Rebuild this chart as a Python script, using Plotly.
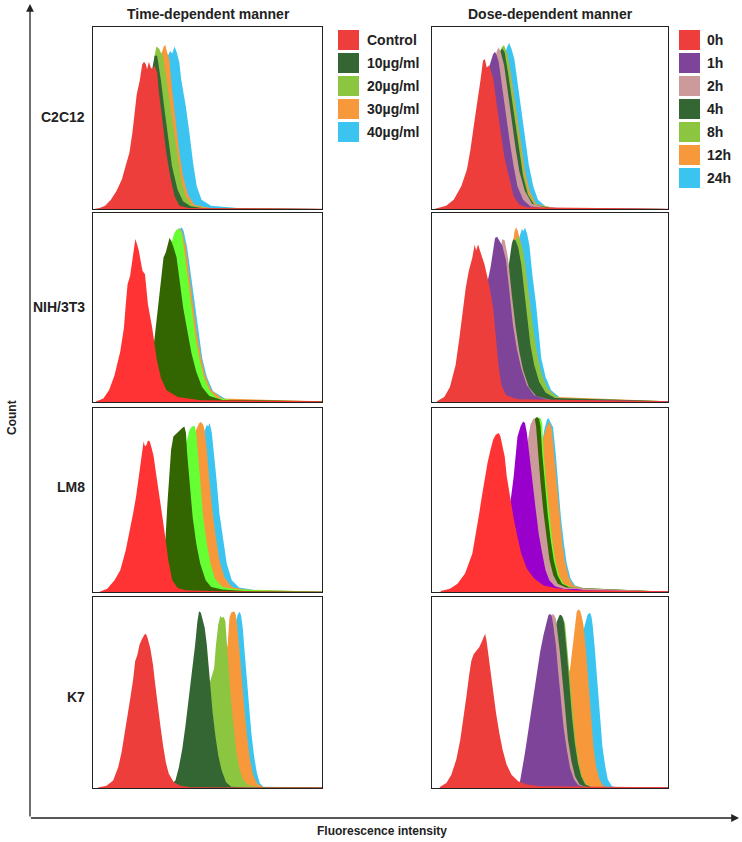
import plotly.graph_objects as go

W, H = 742, 842
FONT = "Liberation Sans, Arial, Helvetica, sans-serif"
INK = "#222222"

# ---------------- labels ----------------
column_titles = ["Time-dependent manner", "Dose-dependent manner"]
time_labels = ["Control", "10µg/ml", "20µg/ml", "30µg/ml", "40µg/ml"]
dose_labels = ["0h", "1h", "2h", "4h", "8h", "12h", "24h"]
cell_lines = ["C2C12", "NIH/3T3", "LM8", "K7"]
x_title = "Fluorescence intensity"
y_title = "Count"

time_legend_colors = ["#EE3E3B", "#336633", "#8CC540", "#F7993B", "#3CC4F0"]
dose_legend_colors = ["#EE3E3B", "#7E449A", "#CC9A9A", "#336633", "#8CC540", "#F7993B", "#3CC4F0"]

# ---------------- histogram data (channel %, count % of panel max) ----------------
# C2C12 - time
c2c12_time_control_x = [0.5, 2.9, 5.3, 7.8, 10.2, 12.6, 14.2, 15.9, 17.2, 18.3, 19.1, 20.4, 21.5, 22.3, 23.1, 23.6, 24.4, 25.2, 26.1, 26.9, 28.0, 28.8, 30.4, 32.0, 33.7, 35.6, 37.7, 41.7, 100]
c2c12_time_control_y = [0, 0.6, 1.8, 5.1, 9.7, 16.2, 23.5, 30.9, 41.9, 52.9, 63.1, 70.4, 79.6, 80.9, 79.6, 76.8, 80.9, 77.8, 76.8, 79.0, 75.0, 64.0, 47.4, 30.9, 18.0, 7.0, 1.8, 0.6, 0.2]
c2c12_time_10_x = [17.5, 22.3, 25.6, 26.9, 28.0, 29.6, 31.2, 32.8, 34.5, 36.9, 39.3, 42.6, 48.2, 100]
c2c12_time_10_y = [0, 47.4, 75.0, 84.2, 84.2, 71.3, 54.8, 38.2, 23.5, 10.7, 4.2, 1.5, 0.4, 0]
c2c12_time_20_x = [19.1, 23.9, 26.9, 27.7, 28.8, 29.6, 30.4, 32.0, 33.7, 35.3, 36.9, 38.5, 40.5, 43.4, 49.8, 100]
c2c12_time_20_y = [0, 47.4, 84.2, 89.3, 88.2, 86.0, 85.1, 71.3, 56.6, 41.9, 27.2, 16.2, 7.0, 1.8, 0.4, 0]
c2c12_time_30_x = [20.7, 25.6, 29.6, 30.9, 31.6, 32.4, 33.3, 34.5, 36.1, 37.7, 39.3, 41.4, 44.2, 51.5, 100]
c2c12_time_30_y = [0, 47.4, 84.2, 89.3, 90.1, 86.0, 82.4, 65.8, 47.4, 30.9, 18.0, 7.9, 2.4, 0.4, 0]
c2c12_time_40_x = [22.3, 27.2, 32.0, 33.7, 34.6, 35.6, 36.6, 37.7, 38.5, 40.5, 42.1, 43.7, 45.3, 47.4, 51.5, 59.5, 64.4, 100]
c2c12_time_40_y = [0, 47.4, 82.4, 86.8, 85.5, 89.3, 86.0, 80.5, 71.3, 56.6, 41.9, 25.4, 12.5, 5.1, 1.8, 1.1, 0.4, 0]

# C2C12 - dose
c2c12_dose_0h_x = [1.3, 6.0, 9.2, 12.4, 14.8, 16.3, 17.9, 19.5, 20.6, 21.6, 22.4, 23.2, 24.3, 25.1, 25.9, 27.5, 29.0, 30.6, 32.2, 34.6, 37.0, 40.2, 100]
c2c12_dose_0h_y = [0.2, 1.8, 5.1, 12.5, 21.7, 32.7, 47.4, 60.3, 71.3, 81.4, 82.4, 77.8, 79.0, 75.0, 72.2, 56.6, 41.9, 29.0, 19.9, 7.0, 2.4, 0.9, 0.2]
c2c12_dose_1h_x = [12.4, 18.7, 23.5, 25.9, 26.7, 27.5, 28.3, 29.8, 31.4, 33.0, 34.6, 36.2, 38.6, 41.7, 47.3, 100]
c2c12_dose_1h_y = [0, 47.4, 75.0, 85.1, 86.4, 84.2, 80.5, 65.8, 51.1, 36.4, 23.5, 12.5, 5.1, 1.5, 0.4, 0]
c2c12_dose_2h_x = [14.0, 20.3, 25.9, 27.5, 28.3, 29.2, 30.6, 32.2, 33.8, 35.4, 37.0, 39.4, 42.5, 48.9, 100]
c2c12_dose_2h_y = [0, 47.4, 78.7, 86.9, 88.8, 86.0, 78.7, 63.1, 48.3, 33.6, 20.8, 9.7, 2.8, 0.4, 0]
c2c12_dose_4h_x = [15.6, 21.9, 27.5, 29.0, 29.8, 30.8, 32.2, 33.8, 35.4, 37.0, 38.6, 40.6, 43.3, 50.5, 100]
c2c12_dose_4h_y = [0, 47.4, 80.5, 86.9, 88.2, 86.0, 75.0, 60.3, 45.6, 30.9, 18.0, 7.9, 2.4, 0.4, 0]
c2c12_dose_8h_x = [16.4, 22.7, 28.3, 29.5, 30.5, 31.4, 32.7, 34.3, 35.9, 37.5, 39.0, 40.9, 43.8, 51.3, 100]
c2c12_dose_8h_y = [0, 47.4, 84.2, 88.8, 90.1, 87.0, 78.7, 63.1, 48.3, 33.6, 19.9, 8.8, 2.4, 0.4, 0]
c2c12_dose_12h_x = [17.1, 23.5, 29.8, 31.1, 31.9, 33.0, 34.6, 36.2, 37.8, 39.4, 41.4, 44.1, 52.1, 100]
c2c12_dose_12h_y = [0, 47.4, 82.4, 86.9, 85.1, 77.8, 64.0, 49.3, 34.6, 20.8, 9.7, 2.8, 0.4, 0]
c2c12_dose_24h_x = [18.7, 25.1, 30.6, 31.7, 32.7, 33.7, 34.9, 36.2, 37.8, 39.4, 41.0, 42.9, 44.9, 48.1, 53.7, 100]
c2c12_dose_24h_y = [0, 47.4, 82.4, 88.8, 91.2, 87.9, 82.4, 69.5, 53.9, 39.2, 24.4, 12.5, 5.1, 1.5, 0.4, 0]

# NIH/3T3 - time
nih3t3_time_control_x = [1.3, 4.5, 7.0, 9.4, 11.9, 13.5, 14.3, 15.1, 16.2, 17.2, 17.9, 18.5, 19.2, 20.0, 20.8, 21.6, 22.7, 24.0, 25.8, 27.9, 29.7, 32.1, 37.0, 46.8, 100]
nih3t3_time_control_y = [0.2, 1.8, 6.2, 14.2, 26.7, 39.1, 51.6, 62.3, 66.7, 74.7, 81.9, 86.3, 83.6, 80.1, 74.7, 69.4, 67.6, 51.6, 39.7, 22.1, 12.5, 6.2, 2.7, 0.9, 0.4]
nih3t3_time_10_x = [22.4, 24.8, 26.9, 28.6, 29.9, 30.8, 31.8, 32.6, 33.4, 34.1, 35.1, 36.5, 37.8, 39.4, 40.9, 43.0, 45.1, 47.6, 50.8, 56.5, 100]
nih3t3_time_10_y = [0.4, 14.2, 33.8, 51.6, 64.1, 76.5, 79.2, 83.6, 86.8, 85.4, 82.2, 76.5, 64.8, 49.8, 39.7, 25.8, 16.0, 8.0, 3.2, 1.1, 0.4]
nih3t3_time_20_x = [24.0, 27.3, 31.3, 34.1, 35.4, 36.4, 37.3, 38.3, 39.0, 39.9, 41.6, 43.2, 44.8, 46.4, 48.4, 50.8, 54.1, 63.0, 100]
nih3t3_time_20_y = [0.4, 23.1, 58.7, 83.6, 89.0, 91.1, 91.6, 90.4, 88.1, 80.1, 64.1, 48.0, 33.8, 23.1, 13.3, 6.2, 2.1, 0.7, 0.4]
nih3t3_time_30_x = [24.8, 28.1, 32.1, 35.4, 37.0, 38.0, 38.96, 40.6, 42.2, 43.8, 45.5, 47.1, 49.0, 51.6, 56.5, 100]
nih3t3_time_30_y = [0.4, 23.1, 58.7, 85.4, 91.1, 91.8, 89.9, 81.9, 65.8, 49.8, 35.6, 24.0, 14.2, 6.2, 1.8, 0.4]
nih3t3_time_40_x = [25.6, 28.9, 33.0, 36.2, 37.5, 38.1, 38.8, 39.6, 41.1, 42.9, 44.5, 46.1, 47.7, 49.7, 52.4, 58.1, 66.2, 100]
nih3t3_time_40_y = [0.4, 23.1, 58.7, 87.2, 92.2, 91.5, 92.5, 90.4, 81.9, 65.8, 49.8, 35.6, 23.1, 13.3, 5.7, 1.4, 0.4, 0.4]

# NIH/3T3 - dose
nih3t3_dose_0h_x = [2.1, 5.2, 7.6, 10.0, 11.6, 13.2, 14.3, 15.6, 17.1, 18.1, 18.7, 19.5, 20.3, 21.1, 22.2, 23.2, 24.3, 25.9, 26.7, 27.5, 28.3, 29.5, 31.4, 36.2, 100]
nih3t3_dose_0h_y = [0.4, 2.7, 8.0, 19.6, 33.8, 49.8, 60.5, 69.4, 76.5, 83.3, 80.1, 83.3, 80.4, 77.4, 73.0, 67.6, 61.4, 49.8, 39.1, 28.5, 17.8, 8.9, 3.6, 1.4, 0.4]
nih3t3_dose_1h_x = [12.4, 18.7, 22.7, 24.8, 25.9, 26.7, 27.6, 28.6, 29.8, 31.4, 32.7, 34.3, 35.9, 37.8, 40.2, 43.3, 48.9, 100]
nih3t3_dose_1h_y = [0.4, 40.9, 58.7, 71.2, 80.1, 86.8, 87.5, 85.4, 82.7, 74.7, 58.7, 40.9, 28.5, 17.8, 8.9, 3.6, 1.2, 0.4]
nih3t3_dose_2h_x = [14.0, 21.9, 26.7, 29.1, 29.8, 30.8, 32.2, 33.8, 35.4, 37.0, 38.6, 41.0, 44.1, 50.5, 100]
nih3t3_dose_2h_y = [0.4, 40.9, 67.6, 83.6, 86.3, 85.4, 76.5, 56.9, 40.0, 26.7, 16.9, 8.0, 3.2, 0.9, 0.4]
nih3t3_dose_4h_x = [17.1, 25.1, 30.6, 32.7, 33.8, 34.4, 35.4, 36.5, 37.8, 39.0, 40.3, 41.7, 43.3, 45.4, 48.1, 52.1, 100]
nih3t3_dose_4h_y = [0.4, 40.9, 64.1, 73.8, 83.6, 86.1, 85.4, 81.9, 73.0, 58.7, 44.5, 30.2, 19.6, 10.7, 5.0, 2.1, 0.4]
nih3t3_dose_8h_x = [17.9, 26.7, 32.2, 34.6, 35.9, 37.0, 38.6, 39.7, 41.0, 43.3, 44.9, 47.0, 49.7, 53.7, 100]
nih3t3_dose_8h_y = [0.4, 40.9, 67.6, 83.6, 87.5, 86.3, 80.1, 69.4, 55.2, 35.6, 22.2, 12.5, 5.7, 2.1, 0.4]
nih3t3_dose_12h_x = [18.7, 27.5, 33.0, 34.9, 35.6, 36.3, 37.8, 39.4, 41.0, 42.5, 44.1, 46.0, 48.9, 52.9, 100]
nih3t3_dose_12h_y = [0.4, 40.9, 71.2, 89.9, 92.5, 90.7, 83.6, 73.0, 56.9, 40.9, 28.5, 16.0, 7.1, 2.7, 0.4]
nih3t3_dose_24h_x = [19.5, 28.3, 34.6, 37.0, 38.1, 38.7, 39.4, 40.3, 41.3, 42.5, 44.1, 45.1, 46.3, 48.1, 50.5, 54.4, 61.6, 100]
nih3t3_dose_24h_y = [0.4, 40.9, 73.0, 87.2, 91.6, 90.4, 92.2, 89.0, 82.7, 67.6, 51.6, 37.4, 23.1, 13.3, 6.2, 2.1, 0.7, 0.4]

# LM8 - time
lm8_time_control_x = [2.9, 6.2, 9.4, 11.9, 14.3, 15.9, 17.5, 18.8, 20.0, 20.8, 21.6, 22.1, 22.7, 23.4, 24.0, 24.8, 25.6, 26.5, 27.3, 28.9, 30.5, 31.7, 32.9, 34.6, 37.0, 40.3, 54.9, 100]
lm8_time_control_y = [0.2, 1.8, 6.4, 11.8, 22.7, 31.8, 42.7, 51.8, 62.7, 70.0, 77.3, 81.8, 79.1, 80.0, 82.4, 81.8, 78.2, 73.6, 66.4, 53.6, 39.1, 28.2, 17.3, 6.4, 2.2, 0.9, 0.4, 0.2]
lm8_time_10_x = [28.9, 31.7, 32.5, 33.4, 34.1, 35.1, 36.7, 37.8, 38.96, 39.9, 40.6, 41.1, 42.2, 43.5, 45.1, 46.8, 49.2, 51.6, 56.5, 66.2, 100]
lm8_time_10_y = [0.2, 30.0, 48.2, 66.4, 77.3, 84.5, 86.4, 88.2, 89.1, 90.0, 86.4, 75.5, 57.3, 40.9, 26.4, 15.5, 6.4, 2.7, 1.3, 0.5, 0.2]
lm8_time_20_x = [30.5, 33.8, 37.0, 39.9, 41.1, 42.2, 43.2, 44.3, 45.1, 45.9, 46.8, 48.1, 49.7, 51.3, 53.2, 56.5, 63.0, 100]
lm8_time_20_y = [0.2, 30.0, 57.3, 77.3, 82.7, 88.2, 90.0, 90.4, 86.4, 73.6, 57.3, 40.9, 26.4, 15.5, 7.3, 2.7, 1.3, 0.2]
lm8_time_30_x = [33.0, 37.0, 41.1, 43.8, 45.1, 46.4, 47.2, 48.1, 48.7, 49.7, 50.8, 52.1, 53.6, 55.2, 57.3, 60.6, 66.2, 100]
lm8_time_30_y = [0.2, 30.0, 62.7, 82.7, 88.5, 91.8, 92.4, 90.9, 88.2, 77.3, 60.9, 44.5, 30.0, 17.3, 8.2, 2.7, 1.3, 0.2]
lm8_time_40_x = [35.4, 39.4, 43.5, 46.8, 48.7, 49.7, 50.3, 50.97, 51.9, 52.9, 54.1, 55.2, 56.8, 58.4, 60.6, 63.8, 71.1, 100]
lm8_time_40_y = [0.2, 30.0, 62.7, 80.9, 88.2, 90.9, 90.0, 91.8, 86.4, 75.5, 59.1, 42.7, 28.2, 15.5, 6.4, 2.4, 0.9, 0.2]

# LM8 - dose
lm8_dose_0h_x = [3.7, 7.6, 10.8, 14.0, 17.1, 18.7, 20.0, 21.1, 22.2, 23.5, 24.8, 25.9, 27.0, 28.3, 29.0, 29.8, 30.8, 31.7, 33.2, 34.6, 36.2, 37.8, 40.2, 43.3, 47.3, 52.1, 60.0, 100]
lm8_dose_0h_y = [0.5, 1.8, 4.5, 10.0, 20.9, 31.8, 42.7, 51.8, 60.9, 70.0, 77.3, 82.7, 85.5, 86.4, 84.5, 80.0, 73.6, 62.7, 50.9, 40.0, 30.0, 20.9, 12.7, 7.3, 3.6, 2.2, 0.9, 0.4]
lm8_dose_1h_x = [25.1, 29.8, 33.5, 34.6, 36.2, 37.5, 38.6, 39.4, 40.2, 41.3, 42.5, 43.8, 45.2, 46.7, 48.1, 49.7, 52.1, 56.0, 61.6, 64.8, 100]
lm8_dose_1h_y = [0.2, 20.9, 51.5, 62.7, 84.2, 90.0, 92.7, 91.8, 86.4, 75.5, 60.9, 46.4, 31.8, 20.9, 11.8, 6.4, 3.1, 1.6, 1.6, 0.9, 0.2]
lm8_dose_2h_x = [28.3, 34.6, 38.6, 40.6, 41.7, 42.9, 43.5, 44.1, 44.9, 46.0, 47.3, 48.6, 49.8, 51.4, 53.3, 56.8, 100]
lm8_dose_2h_y = [0.2, 30.0, 66.4, 82.7, 90.9, 94.0, 94.5, 90.0, 75.5, 59.1, 42.7, 28.2, 17.3, 9.1, 4.5, 2.4, 0.2]
lm8_dose_4h_x = [29.8, 36.2, 40.2, 42.5, 43.8, 44.6, 45.4, 46.0, 46.7, 47.8, 49.0, 50.3, 51.6, 53.2, 55.1, 58.4, 100]
lm8_dose_4h_y = [0.2, 30.0, 66.4, 86.4, 94.5, 95.1, 94.0, 90.0, 75.5, 59.1, 42.7, 28.2, 17.3, 9.1, 4.5, 2.4, 0.2]
lm8_dose_8h_x = [30.6, 37.1, 41.0, 43.3, 44.9, 45.9, 46.7, 47.3, 48.4, 49.7, 50.95, 52.2, 53.8, 55.7, 59.2, 100]
lm8_dose_8h_y = [0.2, 30.0, 66.4, 86.4, 94.5, 94.7, 91.8, 75.5, 59.1, 42.7, 28.2, 17.3, 9.1, 4.5, 2.4, 0.2]
lm8_dose_12h_x = [32.2, 39.4, 44.1, 47.3, 48.6, 49.2, 49.8, 50.8, 51.7, 52.9, 54.0, 55.2, 56.5, 58.1, 60.0, 64.8, 100]
lm8_dose_12h_y = [0.2, 30.0, 66.4, 84.5, 90.0, 91.8, 92.7, 88.2, 75.5, 57.3, 40.9, 26.4, 15.5, 7.3, 3.6, 1.8, 0.2]
lm8_dose_24h_x = [33.0, 40.2, 44.9, 47.6, 48.7, 49.2, 49.8, 51.3, 52.4, 53.5, 54.6, 55.9, 57.1, 58.7, 60.6, 65.6, 100]
lm8_dose_24h_y = [0.2, 30.0, 66.4, 88.2, 93.6, 94.5, 93.3, 89.6, 75.5, 57.3, 40.9, 26.4, 15.5, 7.3, 3.6, 1.6, 0.2]

# K7 - time
k7_time_control_x = [2.2, 5.9, 8.8, 11.0, 12.5, 14.0, 15.4, 16.5, 17.6, 18.4, 19.4, 20.3, 21.3, 22.4, 23.1, 23.8, 25.0, 26.2, 27.2, 28.2, 29.4, 30.6, 31.8, 33.1, 35.3, 38.2, 42.6, 100]
k7_time_control_y = [0.2, 1.2, 3.9, 10.9, 18.8, 29.3, 39.9, 48.7, 57.5, 66.3, 69.8, 75.0, 77.7, 80.3, 80.7, 78.6, 73.3, 64.5, 54.0, 43.4, 32.9, 22.3, 13.5, 7.4, 3.0, 1.2, 0.4, 0.2]
k7_time_10_x = [32.4, 36.0, 37.5, 39.0, 40.4, 41.9, 43.4, 44.6, 45.6, 46.3, 47.1, 47.8, 48.8, 49.7, 50.4, 51.2, 52.2, 53.4, 54.7, 56.2, 58.1, 60.3, 67.6, 100]
k7_time_10_y = [0.2, 3.9, 10.9, 20.6, 32.9, 46.9, 61.0, 75.0, 87.3, 92.6, 91.7, 88.2, 83.8, 75.0, 64.5, 52.2, 39.9, 27.6, 17.0, 9.1, 3.0, 0.7, 0.2, 0.2]
k7_time_20_x = [44.1, 47.8, 50.7, 52.9, 53.7, 54.7, 55.6, 56.2, 57.1, 57.8, 58.5, 59.3, 60.3, 61.5, 62.6, 64.0, 65.4, 67.6, 72.1, 100]
k7_time_20_y = [0.2, 36.4, 54.0, 62.7, 75.0, 85.6, 90.0, 89.1, 89.5, 87.3, 75.0, 61.0, 45.2, 31.1, 18.8, 10.0, 4.7, 1.6, 0.4, 0.2]
k7_time_30_x = [48.5, 52.9, 56.6, 58.8, 59.6, 60.3, 60.97, 61.8, 62.4, 62.9, 64.0, 65.0, 66.2, 67.4, 68.5, 70.0, 71.8, 74.3, 100]
k7_time_30_y = [0.2, 36.4, 62.7, 75.0, 89.1, 91.7, 92.3, 92.3, 90.5, 85.6, 71.5, 55.7, 39.9, 25.8, 15.3, 6.5, 2.1, 0.5, 0.2]
k7_time_40_x = [50.0, 54.4, 58.8, 62.1, 63.2, 64.1, 64.7, 65.4, 66.2, 67.1, 67.9, 69.1, 70.3, 71.5, 72.8, 74.3, 100]
k7_time_40_y = [0.2, 36.4, 62.7, 85.6, 90.9, 92.3, 90.0, 83.8, 71.5, 57.5, 43.4, 29.3, 17.0, 8.3, 2.6, 0.7, 0.2]

# K7 - dose
k7_dose_0h_x = [3.3, 6.1, 8.2, 10.3, 12.0, 13.5, 14.6, 15.7, 16.7, 17.7, 18.8, 20.0, 21.0, 22.0, 22.5, 23.1, 23.9, 24.8, 25.9, 27.1, 28.5, 29.9, 31.6, 33.7, 36.5, 40.1, 45.8, 100]
k7_dose_0h_y = [0.5, 2.6, 7.0, 14.9, 25.4, 37.7, 48.2, 58.8, 66.7, 70.2, 71.9, 73.7, 76.3, 79.8, 80.7, 77.2, 69.3, 60.5, 50.0, 39.5, 28.9, 20.2, 12.3, 7.0, 3.5, 1.8, 0.9, 0.4]
k7_dose_1h_x = [35.8, 37.3, 39.4, 41.5, 43.6, 45.8, 47.2, 48.6, 49.3, 50.0, 50.7, 51.4, 52.5, 53.5, 54.5, 55.7, 57.1, 58.5, 60.2, 62.0, 65.6, 100]
k7_dose_1h_y = [0.2, 3.5, 18.4, 36.0, 53.5, 71.1, 79.8, 86.8, 90.4, 91.1, 90.4, 85.1, 74.6, 60.5, 46.5, 32.5, 20.2, 10.5, 4.4, 1.4, 0.4, 0.2]
k7_dose_2h_x = [38.7, 44.3, 47.9, 50.0, 51.1, 51.8, 52.5, 53.1, 54.2, 55.4, 56.5, 57.6, 59.1, 60.6, 62.5, 65.6, 100]
k7_dose_2h_y = [0.2, 36.0, 71.1, 86.8, 91.2, 90.4, 88.6, 83.3, 71.1, 55.3, 39.5, 25.4, 14.0, 6.1, 1.8, 0.4, 0.2]
k7_dose_4h_x = [40.1, 45.8, 50.0, 52.8, 54.0, 54.5, 55.1, 55.9, 57.1, 58.2, 59.3, 60.5, 61.8, 63.2, 64.9, 67.7, 100]
k7_dose_4h_y = [0.2, 36.0, 71.1, 86.8, 90.4, 90.7, 90.0, 86.8, 71.1, 53.5, 37.7, 23.7, 13.2, 6.1, 1.8, 0.4, 0.2]
k7_dose_8h_x = [40.8, 46.5, 50.7, 53.5, 54.5, 55.4, 56.4, 57.5, 58.6, 59.8, 60.9, 62.2, 63.6, 65.3, 68.1, 100]
k7_dose_8h_y = [0.2, 36.0, 71.1, 86.8, 90.0, 89.5, 86.0, 71.1, 53.5, 37.7, 23.7, 13.2, 6.1, 1.8, 0.4, 0.2]
k7_dose_12h_x = [45.8, 51.4, 58.5, 59.9, 60.8, 61.3, 62.0, 62.7, 63.5, 64.2, 65.3, 66.3, 67.3, 68.4, 69.5, 71.0, 72.7, 75.5, 100]
k7_dose_12h_y = [0.2, 36.0, 62.3, 78.1, 88.6, 92.1, 93.5, 93.0, 89.5, 85.1, 71.1, 53.5, 36.0, 21.9, 11.4, 4.4, 0.9, 0.2, 0.2]
k7_dose_24h_x = [48.6, 54.2, 59.9, 63.5, 65.2, 65.9, 66.4, 67.0, 67.6, 68.1, 69.1, 70.1, 71.2, 72.2, 73.4, 74.5, 76.2, 79.0, 100]
k7_dose_24h_y = [0.2, 36.0, 62.3, 79.8, 88.6, 90.7, 91.2, 91.8, 89.5, 85.1, 71.1, 53.5, 36.0, 21.9, 11.4, 4.4, 0.9, 0.2, 0.2]

# ---------------- panel assembly ----------------
bright_time_colors = ["#FF3333", "#336600", "#66FF33", "#F7993B", "#3CC4F0"]
bright_dose_colors = ["#FF3333", "#9900CC", "#CC9A9A", "#336600", "#66FF33", "#F7993B", "#3CC4F0"]

panels = [
    dict(row=0, col=0, colors=time_legend_colors, series=[
        (c2c12_time_control_x, c2c12_time_control_y), (c2c12_time_10_x, c2c12_time_10_y),
        (c2c12_time_20_x, c2c12_time_20_y), (c2c12_time_30_x, c2c12_time_30_y), (c2c12_time_40_x, c2c12_time_40_y)]),
    dict(row=0, col=1, colors=dose_legend_colors, series=[
        (c2c12_dose_0h_x, c2c12_dose_0h_y), (c2c12_dose_1h_x, c2c12_dose_1h_y), (c2c12_dose_2h_x, c2c12_dose_2h_y),
        (c2c12_dose_4h_x, c2c12_dose_4h_y), (c2c12_dose_8h_x, c2c12_dose_8h_y), (c2c12_dose_12h_x, c2c12_dose_12h_y),
        (c2c12_dose_24h_x, c2c12_dose_24h_y)]),
    dict(row=1, col=0, colors=bright_time_colors, series=[
        (nih3t3_time_control_x, nih3t3_time_control_y), (nih3t3_time_10_x, nih3t3_time_10_y),
        (nih3t3_time_20_x, nih3t3_time_20_y), (nih3t3_time_30_x, nih3t3_time_30_y), (nih3t3_time_40_x, nih3t3_time_40_y)]),
    dict(row=1, col=1, colors=dose_legend_colors, series=[
        (nih3t3_dose_0h_x, nih3t3_dose_0h_y), (nih3t3_dose_1h_x, nih3t3_dose_1h_y), (nih3t3_dose_2h_x, nih3t3_dose_2h_y),
        (nih3t3_dose_4h_x, nih3t3_dose_4h_y), (nih3t3_dose_8h_x, nih3t3_dose_8h_y), (nih3t3_dose_12h_x, nih3t3_dose_12h_y),
        (nih3t3_dose_24h_x, nih3t3_dose_24h_y)]),
    dict(row=2, col=0, colors=bright_time_colors, series=[
        (lm8_time_control_x, lm8_time_control_y), (lm8_time_10_x, lm8_time_10_y),
        (lm8_time_20_x, lm8_time_20_y), (lm8_time_30_x, lm8_time_30_y), (lm8_time_40_x, lm8_time_40_y)]),
    dict(row=2, col=1, colors=bright_dose_colors, series=[
        (lm8_dose_0h_x, lm8_dose_0h_y), (lm8_dose_1h_x, lm8_dose_1h_y), (lm8_dose_2h_x, lm8_dose_2h_y),
        (lm8_dose_4h_x, lm8_dose_4h_y), (lm8_dose_8h_x, lm8_dose_8h_y), (lm8_dose_12h_x, lm8_dose_12h_y),
        (lm8_dose_24h_x, lm8_dose_24h_y)]),
    dict(row=3, col=0, colors=time_legend_colors, series=[
        (k7_time_control_x, k7_time_control_y), (k7_time_10_x, k7_time_10_y),
        (k7_time_20_x, k7_time_20_y), (k7_time_30_x, k7_time_30_y), (k7_time_40_x, k7_time_40_y)]),
    dict(row=3, col=1, colors=dose_legend_colors, series=[
        (k7_dose_0h_x, k7_dose_0h_y), (k7_dose_1h_x, k7_dose_1h_y), (k7_dose_2h_x, k7_dose_2h_y),
        (k7_dose_4h_x, k7_dose_4h_y), (k7_dose_8h_x, k7_dose_8h_y), (k7_dose_12h_x, k7_dose_12h_y),
        (k7_dose_24h_x, k7_dose_24h_y)]),
]

col_px = [(93, 322), (432, 668)]
row_px = [(27, 209), (213, 402), (408, 592), (597, 788)]


def px(x):
    return x / W


def py(y):
    return 1 - y / H


fig = go.Figure()
axes = {}
for i, p in enumerate(panels):
    n = i + 1
    xa = "x" if n == 1 else f"x{n}"
    ya = "y" if n == 1 else f"y{n}"
    labels = time_labels if p["col"] == 0 else dose_labels
    items = list(zip(p["series"], p["colors"], labels))
    # first series is in front: draw it last
    for (xs, ys), c, name in reversed(items):
        fig.add_trace(go.Scatter(
            x=xs, y=ys, name=name, xaxis=xa, yaxis=ya, mode="lines",
            fill="tozeroy", fillcolor=c, line=dict(width=0, color=c),
            hoverinfo="skip", showlegend=False))
    x0, x1 = col_px[p["col"]]
    y0, y1 = row_px[p["row"]]
    common = dict(range=[0, 100], showline=True, mirror=True, linecolor=INK, linewidth=1,
                  showticklabels=False, ticks="", showgrid=False, zeroline=False, fixedrange=True)
    axes["xaxis" if n == 1 else f"xaxis{n}"] = dict(domain=[px(x0), px(x1)], anchor=ya, **common)
    axes["yaxis" if n == 1 else f"yaxis{n}"] = dict(domain=[py(y1), py(y0)], anchor=xa, **common)

fig.update_layout(**axes)

annotations = []
shapes = []

# column titles
for title, cx in zip(column_titles, [208, 550]):
    annotations.append(dict(text=f"<b>{title}</b>", x=px(cx), y=py(14), xref="paper", yref="paper",
                            xanchor="center", yanchor="middle", showarrow=False,
                            font=dict(family=FONT, size=14, color=INK)))

# row labels
for name, cy in zip(cell_lines, [117, 307, 487, 697]):
    annotations.append(dict(text=f"<b>{name}</b>", x=px(87), y=py(cy), xref="paper", yref="paper",
                            xanchor="right", yanchor="middle", showarrow=False,
                            font=dict(family=FONT, size=14, color=INK)))

# legends (swatch + label)
for labels, colors, sx, tx in [(time_labels, time_legend_colors, 338, 365),
                               (dose_labels, dose_legend_colors, 679, 705)]:
    for k, (lab, col) in enumerate(zip(labels, colors)):
        top = 30 + 23 * k
        shapes.append(dict(type="rect", xref="paper", yref="paper",
                           x0=px(sx), x1=px(sx + 21), y0=py(top + 20), y1=py(top),
                           fillcolor=col, line=dict(width=0)))
        annotations.append(dict(text=f"<b>{lab}</b>", x=px(tx), y=py(top + 10), xref="paper", yref="paper",
                                xanchor="left", yanchor="middle", showarrow=False,
                                font=dict(family=FONT, size=14, color=INK)))

# big axes with arrows (tail offsets in pixels)
annotations.append(dict(x=px(30), y=py(4), ax=0, ay=814, xref="paper", yref="paper",
                        axref="pixel", ayref="pixel", text="", showarrow=True, arrowhead=2,
                        arrowsize=1.2, arrowwidth=1.3, arrowcolor=INK, standoff=0, startstandoff=0))
annotations.append(dict(x=px(739), y=py(818), ax=-709.6, ay=0, xref="paper", yref="paper",
                        axref="pixel", ayref="pixel", text="", showarrow=True, arrowhead=2,
                        arrowsize=1.2, arrowwidth=1.3, arrowcolor=INK, standoff=0, startstandoff=0))

annotations.append(dict(text=f"<b>{x_title}</b>", x=px(382), y=py(831), xref="paper", yref="paper",
                        xanchor="center", yanchor="middle", showarrow=False,
                        font=dict(family=FONT, size=12, color=INK)))
annotations.append(dict(text=f"<b>{y_title}</b>", x=px(12), y=py(418), xref="paper", yref="paper",
                        xanchor="center", yanchor="middle", showarrow=False, textangle=-90,
                        font=dict(family=FONT, size=12, color=INK)))

fig.update_layout(
    width=W, height=H, margin=dict(l=0, r=0, t=0, b=0),
    paper_bgcolor="white", plot_bgcolor="white", showlegend=False,
    annotations=annotations, shapes=shapes,
)

# remove the default page margin so the 742x842 figure fills the window exactly; hide the modebar
fig.write_html("out.html", config={"displayModeBar": False, "staticPlot": True},
               post_script="document.body.style.margin='0';document.body.style.overflow='hidden';")
